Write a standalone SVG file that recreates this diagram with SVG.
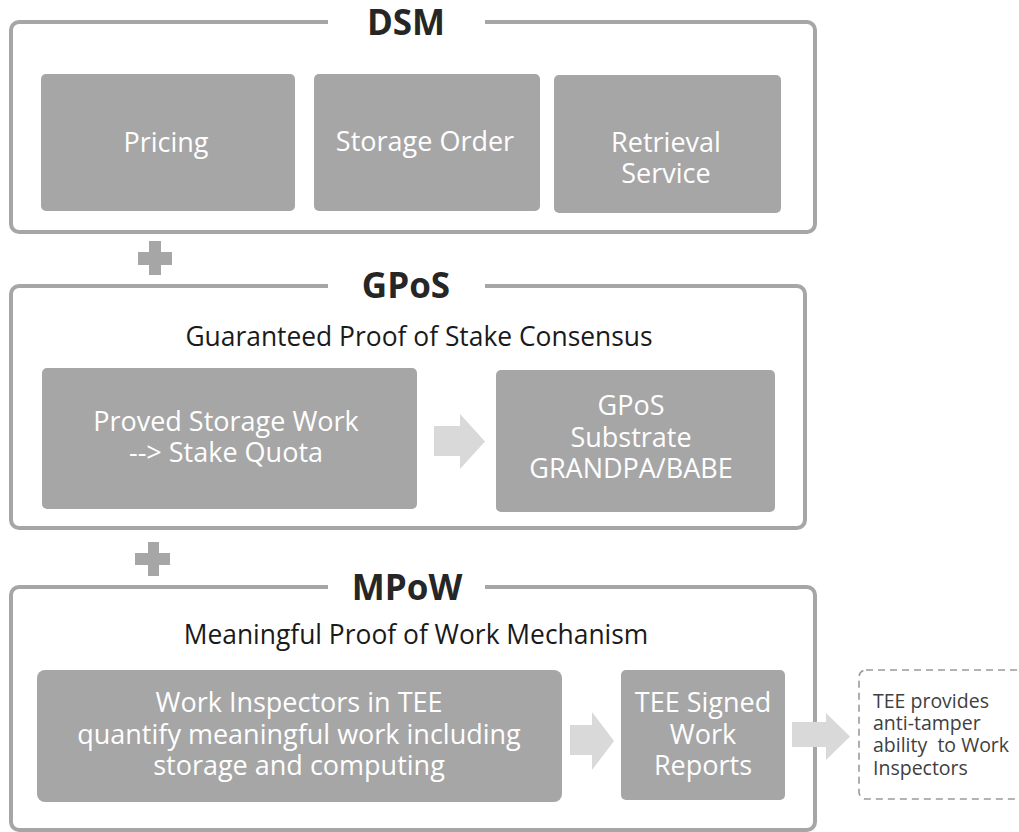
<svg xmlns="http://www.w3.org/2000/svg" width="1019" height="832" viewBox="0 0 1019 832">
  <style>
    .frame { fill: none; stroke: #a6a6a6; stroke-width: 4; }
    .gap { fill: #ffffff; stroke: none; }
    .box { fill: #a6a6a6; }
    .plus { fill: #a6a6a6; }
    .flow { fill: #d9d9d9; }
    .note { fill: none; stroke: #9a9a9a; stroke-width: 1.6; stroke-dasharray: 7 5; }
    .title { font-family: "Open Sans", "Noto Sans", sans-serif; font-weight: bold; font-size: 35px; fill: #262626; text-anchor: middle; }
    .sub { font-family: "Open Sans", "Noto Sans", sans-serif; font-size: 26.4px; fill: #1a1a1a; text-anchor: middle; }
    .lbl { font-family: "Open Sans", "Noto Sans", sans-serif; font-size: 27px; fill: #ffffff; text-anchor: middle; }
    .ntxt { font-family: "Open Sans", "Noto Sans", sans-serif; font-size: 19.5px; fill: #404040; }
  </style>
  <rect width="1019" height="832" fill="#ffffff"/>

  <!-- DSM layer -->
  <g id="dsm">
    <rect class="frame" x="11" y="22" width="804" height="210" rx="8"/>
    <rect class="gap" x="328" y="15" width="157" height="14"/>
    <text class="title" x="406" y="35">DSM</text>
  </g>
  <g id="pricing">
    <rect class="box" x="41" y="74" width="254" height="137" rx="5"/>
    <text class="lbl" x="166" y="152">Pricing</text>
  </g>
  <g id="storage-order">
    <rect class="box" x="314" y="74" width="226" height="137" rx="5"/>
    <text class="lbl" x="425" y="151">Storage Order</text>
  </g>
  <g id="retrieval-service">
    <rect class="box" x="554" y="75" width="227" height="138" rx="5"/>
    <text class="lbl" x="666" y="152">Retrieval</text>
    <text class="lbl" x="666" y="183">Service</text>
  </g>

  <!-- plus between DSM and GPoS -->
  <g id="plus-1">
    <rect class="plus" x="149" y="241" width="12" height="34"/>
    <rect class="plus" x="138" y="252" width="34" height="13"/>
  </g>

  <!-- GPoS layer -->
  <g id="gpos">
    <rect class="frame" x="11" y="286" width="794" height="242" rx="8"/>
    <rect class="gap" x="328" y="279" width="157" height="14"/>
    <text class="title" x="406" y="298">GPoS</text>
    <text class="sub" x="419" y="346">Guaranteed Proof of Stake Consensus</text>
  </g>
  <g id="proved-storage-work">
    <rect class="box" x="42" y="368" width="375" height="141" rx="5"/>
    <text class="lbl" x="226" y="431">Proved Storage Work</text>
    <text class="lbl" x="226" y="462">--&gt; Stake Quota</text>
  </g>
  <g id="gpos-substrate">
    <rect class="box" x="496" y="370" width="279" height="142" rx="5"/>
    <text class="lbl" x="631" y="415">GPoS</text>
    <text class="lbl" x="631" y="447">Substrate</text>
    <text class="lbl" x="631" y="478">GRANDPA/BABE</text>
  </g>

  <!-- plus between GPoS and MPoW -->
  <g id="plus-2">
    <rect class="plus" x="148" y="542" width="11" height="34"/>
    <rect class="plus" x="135" y="553" width="35" height="12"/>
  </g>

  <!-- MPoW layer -->
  <g id="mpow">
    <rect class="frame" x="11" y="587" width="804" height="243" rx="8"/>
    <rect class="gap" x="328" y="580" width="157" height="14"/>
    <text class="title" x="407" y="600">MPoW</text>
    <text class="sub" x="416" y="644">Meaningful Proof of Work Mechanism</text>
  </g>
  <g id="work-inspectors">
    <rect class="box" x="37" y="670" width="525" height="132" rx="8"/>
    <text class="lbl" x="299" y="712">Work Inspectors in TEE</text>
    <text class="lbl" x="299" y="744">quantify meaningful work including</text>
    <text class="lbl" x="299" y="775">storage and computing</text>
  </g>
  <g id="tee-signed-reports">
    <rect class="box" x="621" y="670" width="164" height="130" rx="5"/>
    <text class="lbl" x="703" y="712">TEE Signed</text>
    <text class="lbl" x="703" y="744">Work</text>
    <text class="lbl" x="703" y="775">Reports</text>
  </g>
  <g id="tee-note">
    <rect class="note" x="859" y="670" width="170" height="129" rx="7"/>
    <text class="ntxt" x="873" y="708">TEE provides</text>
    <text class="ntxt" x="873" y="730">anti-tamper</text>
    <text class="ntxt" x="873" y="752" xml:space="preserve">ability  to Work</text>
    <text class="ntxt" x="873" y="775">Inspectors</text>
  </g>

  <!-- block arrows -->
  <g id="connectors">
    <polygon class="flow" points="434,426 460,426 460,414 485,441.5 460,469 460,456 434,456"/>
    <polygon class="flow" points="570,725 592,725 592,712 614,741 592,770 592,755 570,755"/>
    <polygon class="flow" points="792,722 826,722 826,713 850,736.5 826,760 826,747 792,747"/>
  </g>
</svg>
